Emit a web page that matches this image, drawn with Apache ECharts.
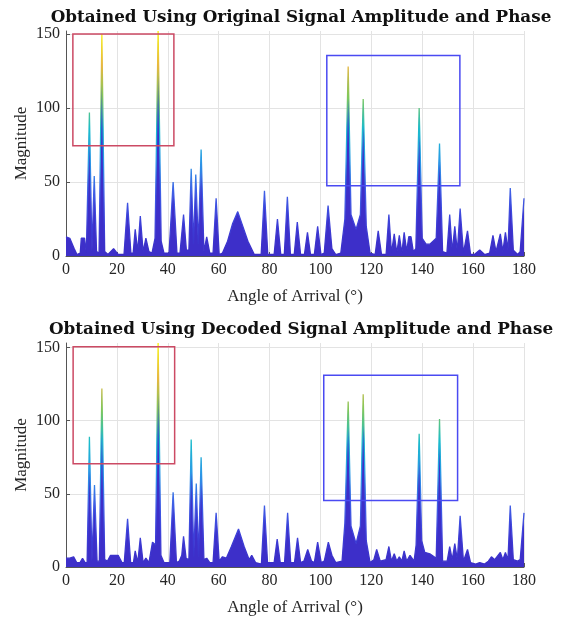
<!DOCTYPE html>
<html>
<head>
<meta charset="utf-8">
<script src="https://cdn.jsdelivr.net/npm/echarts@6/dist/echarts.min.js"></script>
<style>
  html, body { margin: 0; padding: 0; background: #fff; }
  #chart { width: 561px; height: 619px; }
</style>
</head>
<body>
<div id="chart"></div>
<script>
const titles = [
  "Obtained Using Original Signal Amplitude and Phase",
  "Obtained Using Decoded Signal Amplitude and Phase",
];
const xTicks = [0, 20, 40, 60, 80, 100, 120, 140, 160, 180];
const yTicks = [0, 50, 100, 150];

// upper panel: angle (deg) / magnitude
const origAngle = [
  0, 1.5, 3.2, 4.3, 5.6, 6.0, 7.3, 8.0, 9.2, 10.2, 11.1, 12.0, 13.0, 14.1, 15.2, 16.5,
  18.7, 20.5, 22.8, 24.2, 25.5, 26.4, 27.2, 28.2, 29.2, 30.3, 31.4, 32.6, 33.8, 35.0,
  36.2, 37.4, 38.5, 40.5, 42.1, 43.6, 44.8, 46.2, 47.3, 48.3, 49.2, 50.1, 51.0, 52.0,
  53.1, 54.2, 55.3, 56.5, 57.8, 59.0, 60.2, 61.5, 63.5, 65.5, 67.5, 69.5, 71.5, 74.0,
  76.7, 78.0, 79.3, 81.8, 83.1, 84.4, 85.8, 87.0, 88.2, 89.7, 90.9, 92.2, 93.7, 94.9,
  96.1, 97.6, 98.9, 100.2, 101.5, 103.0, 104.5, 106.0, 108.0, 109.6, 110.9, 112.0,
  114.0, 115.7, 116.8, 118.0, 119.5, 121.5, 122.7, 124.0, 125.8, 126.9, 127.9, 129.0,
  130.0, 131.0, 132.0, 132.9, 133.9, 134.7, 135.6, 136.5, 137.5, 138.8, 140.0, 141.5,
  143.0, 145.5, 146.8, 148.0, 149.7, 150.8, 151.8, 152.8, 153.8, 154.9, 156.2, 157.8,
  159.0, 160.5, 162.6, 164.5, 166.5, 167.8, 169.0, 170.7, 171.7, 172.7, 173.7, 174.6,
  175.8, 177.5, 178.5, 180,
];
const origMag = [
  13, 12, 5, 1, 2, 12, 12, 2, 97, 3, 54, 3, 2, 150, 3, 1,
  5, 1, 1, 36, 2, 2, 18, 3, 27, 3, 12, 3, 2, 12,
  152, 10, 2, 2, 50, 2, 2, 28, 4, 4, 59, 8, 55, 8,
  72, 3, 13, 2, 2, 39, 1, 2, 10, 22, 30, 20, 10, 1,
  1, 44, 1, 1, 25, 1, 1, 40, 1, 1, 23, 1, 1, 16,
  1, 1, 20, 1, 2, 34, 5, 1, 2, 25, 128, 28,
  18, 28, 106, 20, 2, 1, 17, 1, 1, 28, 2, 15,
  2, 14, 2, 16, 3, 13, 13, 3, 5, 100, 12, 8,
  8, 12, 76, 3, 2, 28, 3, 20, 3, 32, 2, 17,
  1, 1, 4, 1, 2, 14, 3, 15, 3, 16, 4, 46,
  4, 1, 3, 39,
];

// lower panel
const decAngle = [
  0, 1.5, 3.0, 4.2, 5.5, 6.5, 7.5, 8.3, 9.2, 10.2, 11.2, 12.2, 13.1, 14.1, 15.2, 16.3,
  17.5, 20.5, 22.0, 22.9, 24.2, 25.4, 26.5, 27.2, 28.2, 29.2, 30.3, 31.4, 32.6, 34.0,
  35.2, 36.2, 37.3, 38.5, 40.8, 42.1, 43.4, 44.5, 45.5, 46.2, 47.2, 48.3, 49.2, 50.2,
  51.2, 52.1, 53.1, 54.2, 55.3, 56.5, 57.8, 59.0, 60.2, 61.5, 63.0, 65.0, 67.8, 70.0,
  72.0, 73.0, 74.5, 76.8, 78.0, 79.2, 80.5, 81.8, 83.0, 84.2, 85.9, 87.1, 88.3, 89.8,
  91.0, 92.2, 93.5, 95.0, 96.5, 97.6, 98.9, 100.3, 101.5, 103.1, 104.5, 106.0, 108.5,
  109.6, 110.9, 112.0, 114.0, 115.7, 116.8, 118.0, 119.5, 121.0, 122.1, 123.5, 125.8,
  126.9, 127.9, 129.0, 130.0, 131.0, 132.0, 132.9, 133.9, 135.2, 136.8, 137.6, 138.8,
  139.8, 141.0, 143.0, 145.5, 146.8, 148.0, 149.8, 150.8, 151.8, 152.8, 153.8, 154.9,
  156.2, 157.8, 159.0, 161.0, 162.6, 164.5, 166.0, 167.2, 168.5, 170.7, 171.7, 172.7,
  173.7, 174.6, 175.8, 177.5, 178.5, 180,
];
const decMag = [
  6, 6, 7, 3, 3, 6, 3, 3, 89, 4, 56, 4, 4, 122, 5, 4,
  8, 8, 3, 3, 33, 3, 3, 11, 3, 20, 3, 6, 3, 17,
  15, 153, 8, 3, 3, 51, 3, 4, 8, 21, 6, 5, 87, 7,
  57, 7, 75, 5, 6, 3, 3, 37, 4, 7, 6, 14, 26, 14,
  5, 8, 3, 2, 42, 3, 3, 3, 19, 3, 3, 37, 3, 3,
  20, 3, 4, 12, 4, 3, 17, 3, 4, 17, 8, 3, 4,
  30, 113, 28, 16, 28, 118, 18, 3, 5, 12, 4, 5,
  14, 4, 9, 4, 7, 4, 11, 4, 8, 4, 15, 91,
  18, 10, 9, 6, 101, 4, 4, 14, 5, 16, 5, 35,
  4, 12, 3, 2, 3, 2, 4, 7, 5, 10, 5, 10,
  5, 42, 5, 4, 5, 37,
];

// highlight boxes [x0, y0, x1, y1]
const origRedBox = [2.7, 74.5, 42.4, 150];
const origBlueBox = [102.5, 47.5, 154.8, 135.5];
const decRedBox = [2.8, 70.5, 42.7, 150.5];
const decBlueBox = [101.3, 45.5, 153.9, 131];

const chart = echarts.init(document.getElementById("chart"));

const serif = "'Liberation Serif', 'Times New Roman', serif";
const fillBlue = "#3d2fc9";
const boxArea = (box, color) => [
  { coord: [box[0], box[1]], itemStyle: { color: "rgba(0,0,0,0)", borderColor: color, borderWidth: 1.5 } },
  { coord: [box[2], box[3]] },
];
const toPairs = (xs, ys) => xs.map((x, i) => [x, ys[i]]);

const grids = [
  { left: 66, width: 458, top: 31, height: 225 },
  { left: 66, width: 458, top: 343, height: 224 },
];
const yMax = [152, 153];

const makeX = (i) => ({
  type: "value",
  gridIndex: i,
  min: 0,
  max: 180,
  interval: 20,
  name: "Angle of Arrival (°)",
  nameLocation: "middle",
  nameGap: 32,
  nameMoveOverlap: false,
  nameTextStyle: { fontFamily: serif, fontSize: 17, color: "#262626" },
  axisLine: { show: true, onZero: false, lineStyle: { color: "#555", width: 1 } },
  axisTick: { show: true, inside: true, length: 4, lineStyle: { color: "#555" } },
  axisLabel: { fontFamily: serif, fontSize: 16, color: "#262626", margin: 6 },
  splitLine: { show: true, lineStyle: { color: "#e3e3e3", width: 1 } },
});
const makeY = (i) => ({
  type: "value",
  gridIndex: i,
  min: 0,
  max: yMax[i],
  interval: 50,
  name: "Magnitude",
  nameLocation: "middle",
  nameGap: 36,
  nameMoveOverlap: false,
  nameTextStyle: { fontFamily: serif, fontSize: 17, color: "#262626" },
  axisLine: { show: true, lineStyle: { color: "#555", width: 1 } },
  axisTick: { show: true, inside: true, length: 4, lineStyle: { color: "#555" } },
  axisLabel: { fontFamily: serif, fontSize: 16, color: "#262626", margin: 6, showMaxLabel: false },
  splitLine: { show: true, showMaxLine: false, lineStyle: { color: "#e3e3e3", width: 1 } },
});

const makeSeries = (i, xs, ys, red, blue) => ({
  type: "line",
  xAxisIndex: i,
  yAxisIndex: i,
  data: toPairs(xs, ys),
  showSymbol: false,
  symbol: "none",
  animation: false,
  lineStyle: { width: 1.3 },
  areaStyle: { color: fillBlue, opacity: 1 },
  z: 3,
  markArea: {
    silent: true,
    z: 5,
    data: [boxArea(red, "#cc4a64"), boxArea(blue, "#4a4af2")],
  },
});

chart.setOption({
  backgroundColor: "#fff",
  animation: false,
  title: titles.map((t, i) => ({
    text: t,
    left: 296,
    textAlign: "center",
    top: i === 0 ? 4 : 316,
    textStyle: { fontFamily: "'DejaVu Serif', serif", fontWeight: "bold", fontSize: 16.8, color: "#111" },
  })),
  grid: grids,
  xAxis: [makeX(0), makeX(1)],
  yAxis: [makeY(0), makeY(1)],
  visualMap: {
    type: "continuous",
    show: false,
    seriesIndex: [0, 1],
    dimension: 1,
    min: 0,
    max: 150,
    inRange: {
      color: ["#3a2cc4", "#3d3fd8", "#3f5ee6", "#2a9ae6", "#1abccc", "#7ec85a", "#e8b840", "#f8f010"],
    },
  },
  series: [
    makeSeries(0, origAngle, origMag, origRedBox, origBlueBox),
    makeSeries(1, decAngle, decMag, decRedBox, decBlueBox),
  ],
});
</script>
</body>
</html>
